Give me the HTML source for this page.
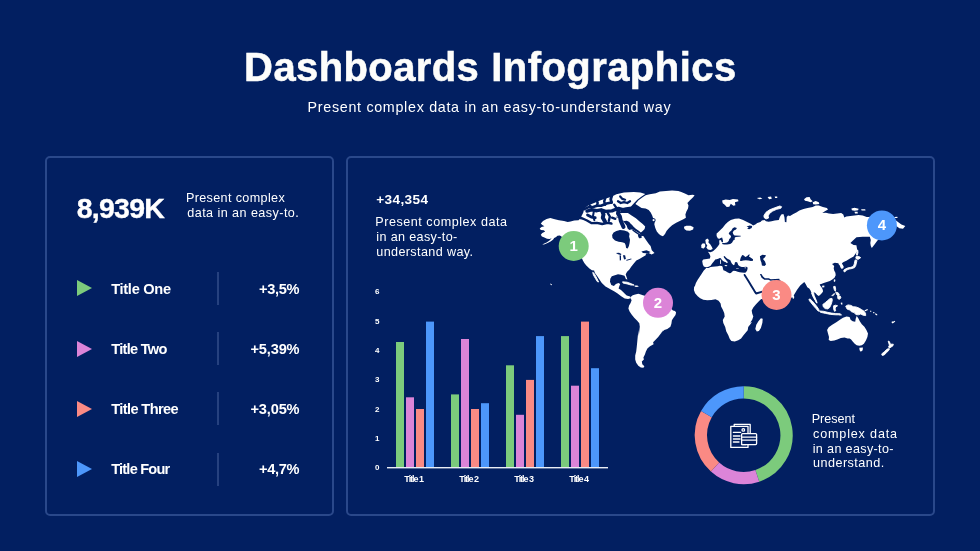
<!DOCTYPE html>
<html lang="en">
<head>
<meta charset="utf-8">
<title>Dashboards Infographics</title>
<style>
*{margin:0;padding:0;box-sizing:border-box}
html,body{width:980px;height:551px;overflow:hidden}
body{background:#021f61;font-family:"Liberation Sans", sans-serif;color:#fff;position:relative}
.t{position:absolute;white-space:nowrap;color:#fff}
.h1a,.h1b,.big,.rt,.rv,.num,.xl,.yl{font-weight:700}
.h1a,.h1b{color:#fdfdfb;-webkit-text-stroke:0.55px #fdfdfb}
.big{-webkit-text-stroke:0.35px #fff}
.panel{position:absolute;border:2px solid #2a488a;border-radius:5px}
.sep{position:absolute;left:217.1px;width:1.7px;height:33px;background:#26417f}
.tri{position:absolute;left:77px;width:0;height:0;border-top:8px solid transparent;border-bottom:8px solid transparent;border-left:15px solid #7ccb7c}
svg{position:absolute;left:0;top:0}
svg text{font-family:"Liberation Sans", sans-serif}
</style>
</head>
<body>
<div class="panel" style="left:45.2px;top:156px;width:288.9px;height:359.7px"></div>
<div class="panel" style="left:346.3px;top:156px;width:588.8px;height:359.7px"></div>
<div class="tri" style="top:280.3px;border-left-color:#7ccb7c"></div>
<div class="sep" style="top:271.8px"></div>
<div class="tri" style="top:340.6px;border-left-color:#dc84d8"></div>
<div class="sep" style="top:332.1px"></div>
<div class="tri" style="top:400.9px;border-left-color:#fa8a84"></div>
<div class="sep" style="top:392.4px"></div>
<div class="tri" style="top:461.2px;border-left-color:#4d97fb"></div>
<div class="sep" style="top:452.7px"></div>
<div class="t h1a" style="left:244.10px;top:45.00px;font-size:40px;line-height:44px;letter-spacing:0.397px">Dashboards</div>
<div class="t h1b" style="left:491.20px;top:45.00px;font-size:40px;line-height:44px;letter-spacing:0.448px">Infographics</div>
<div class="t sub" style="left:307.60px;top:99.00px;font-size:14.3px;line-height:16px;letter-spacing:0.693px">Present complex data in an easy-to-understand way</div>
<div class="t big" style="left:76.70px;top:192.00px;font-size:28.5px;line-height:32px;letter-spacing:-0.744px">8,939K</div>
<div class="t p" style="left:185.90px;top:191.00px;font-size:12.6px;line-height:14px;letter-spacing:0.364px">Present complex</div>
<div class="t p" style="left:187.30px;top:206.00px;font-size:12.6px;line-height:14px;letter-spacing:0.438px">data in an easy-to.</div>
<div class="t rt" style="left:111.20px;top:281.00px;font-size:14.6px;line-height:16px;letter-spacing:-0.295px">Title One</div>
<div class="t rt" style="left:111.20px;top:341.00px;font-size:14.6px;line-height:16px;letter-spacing:-0.709px">Title Two</div>
<div class="t rt" style="left:111.20px;top:401.00px;font-size:14.6px;line-height:16px;letter-spacing:-0.602px">Title Three</div>
<div class="t rt" style="left:111.20px;top:461.00px;font-size:14.6px;line-height:16px;letter-spacing:-0.793px">Title Four</div>
<div class="t rv" style="left:259.00px;top:281.00px;font-size:14.6px;line-height:16px;letter-spacing:-0.302px">+3,5%</div>
<div class="t rv" style="left:250.50px;top:341.00px;font-size:14.6px;line-height:16px;letter-spacing:-0.165px">+5,39%</div>
<div class="t rv" style="left:250.50px;top:401.00px;font-size:14.6px;line-height:16px;letter-spacing:-0.165px">+3,05%</div>
<div class="t rv" style="left:259.00px;top:461.00px;font-size:14.6px;line-height:16px;letter-spacing:-0.302px">+4,7%</div>
<div class="t num" style="left:376.30px;top:192.00px;font-size:13.6px;line-height:15px;letter-spacing:0.357px">+34,354</div>
<div class="t p" style="left:375.30px;top:215.00px;font-size:12.6px;line-height:14px;letter-spacing:0.521px">Present complex data</div>
<div class="t p" style="left:376.30px;top:230.00px;font-size:12.6px;line-height:14px;letter-spacing:0.353px">in an easy-to-</div>
<div class="t p" style="left:376.30px;top:245.00px;font-size:12.6px;line-height:14px;letter-spacing:0.373px">understand way.</div>
<div class="t p" style="left:811.70px;top:412.00px;font-size:12.6px;line-height:14px;letter-spacing:-0.017px">Present</div>
<div class="t p" style="left:813.00px;top:427.00px;font-size:12.6px;line-height:14px;letter-spacing:0.836px">complex data</div>
<div class="t p" style="left:812.70px;top:442.00px;font-size:12.6px;line-height:14px;letter-spacing:0.346px">in an easy-to-</div>
<div class="t p" style="left:813.00px;top:456.00px;font-size:12.6px;line-height:14px;letter-spacing:0.478px">understand.</div>
<div class="t xl" style="left:404.30px;top:474.00px;font-size:9px;line-height:10px;letter-spacing:-1.006px">Title 1</div>
<div class="t xl" style="left:459.30px;top:474.00px;font-size:9px;line-height:10px;letter-spacing:-1.006px">Title 2</div>
<div class="t xl" style="left:514.30px;top:474.00px;font-size:9px;line-height:10px;letter-spacing:-1.006px">Title 3</div>
<div class="t xl" style="left:569.30px;top:474.00px;font-size:9px;line-height:10px;letter-spacing:-1.006px">Title 4</div>
<div class="t yl" style="left:375.10px;top:463.00px;font-size:8px;line-height:9px;letter-spacing:0.000px">0</div>
<div class="t yl" style="left:375.10px;top:434.00px;font-size:8px;line-height:9px;letter-spacing:0.000px">1</div>
<div class="t yl" style="left:375.10px;top:405.00px;font-size:8px;line-height:9px;letter-spacing:0.000px">2</div>
<div class="t yl" style="left:375.10px;top:375.00px;font-size:8px;line-height:9px;letter-spacing:0.000px">3</div>
<div class="t yl" style="left:375.10px;top:346.00px;font-size:8px;line-height:9px;letter-spacing:0.000px">4</div>
<div class="t yl" style="left:375.10px;top:317.00px;font-size:8px;line-height:9px;letter-spacing:0.000px">5</div>
<div class="t yl" style="left:375.10px;top:287.00px;font-size:8px;line-height:9px;letter-spacing:0.000px">6</div>
<svg width="980" height="551" viewBox="0 0 980 551">
<g id="bars">
<rect x="396.0" y="342.0" width="8" height="125.3" fill="#7ccb7c"/>
<rect x="406.0" y="397.3" width="8" height="70.0" fill="#dc84d8"/>
<rect x="416.0" y="409.0" width="8" height="58.3" fill="#fa8a84"/>
<rect x="426.0" y="321.6" width="8" height="145.8" fill="#4d97fb"/>
<rect x="451.0" y="394.4" width="8" height="72.9" fill="#7ccb7c"/>
<rect x="461.0" y="339.0" width="8" height="128.3" fill="#dc84d8"/>
<rect x="471.0" y="409.0" width="8" height="58.3" fill="#fa8a84"/>
<rect x="481.0" y="403.2" width="8" height="64.1" fill="#4d97fb"/>
<rect x="506.0" y="365.3" width="8" height="102.0" fill="#7ccb7c"/>
<rect x="516.0" y="414.8" width="8" height="52.5" fill="#dc84d8"/>
<rect x="526.0" y="379.9" width="8" height="87.4" fill="#fa8a84"/>
<rect x="536.0" y="336.1" width="8" height="131.2" fill="#4d97fb"/>
<rect x="561.0" y="336.1" width="8" height="131.2" fill="#7ccb7c"/>
<rect x="571.0" y="385.7" width="8" height="81.6" fill="#dc84d8"/>
<rect x="581.0" y="321.6" width="8" height="145.8" fill="#fa8a84"/>
<rect x="591.0" y="368.2" width="8" height="99.1" fill="#4d97fb"/>
<rect x="387" y="467" width="221" height="1.4" fill="#e9edf5"/>
</g>
<g id="map" fill="#fff">
<path fill="#fff" d="M540.8 223.4L543.0 220.9L546.6 219.1L550.3 218.1L553.9 219.1L559.0 220.2L564.0 220.9L567.7 222.0L570.6 221.6L574.2 220.5L578.6 220.2L579.3 219.3L583.6 219.6L587.9 221.1L592.1 222.9L595.7 223.6L598.6 223.9L602.1 223.0L605.7 223.2L609.3 223.9L612.1 222.5L613.6 220.0L615.7 218.6L619.0 217.0L623.0 221.0L627.0 226.0L632.0 229.0L638.0 232.5L643.5 236.2L646.0 240.0L649.0 244.2L650.6 246.1L651.8 250.2L654.5 253.1L651.6 254.5L648.6 253.1L646.0 253.5L645.7 255.3L641.9 257.6L639.4 259.0L636.3 260.6L633.8 263.5L631.2 266.7L629.4 269.4L627.1 271.8L625.7 274.3L626.3 276.3L627.4 279.4L625.9 279.0L624.5 275.7L621.0 274.7L618.0 274.2L614.9 275.2L611.8 276.3L610.3 278.8L610.0 281.8L611.3 284.9L613.9 286.1L615.9 284.1L618.5 282.9L620.2 283.9L619.2 286.4L618.6 288.6L621.0 290.0L623.1 292.0L625.1 294.1L626.7 295.5L630.1 296.6L630.6 298.3L628.1 299.0L624.7 298.4L621.2 296.2L617.6 293.4L614.5 291.6L610.4 289.2L605.5 286.5L601.8 283.1L599.8 280.0L597.3 276.3L594.9 272.9L594.1 270.6L591.9 270.2L589.4 268.6L586.3 265.5L584.3 263.0L582.9 260.4L582.0 258.4L572.8 247.8L567.0 241.2L560.8 236.1L559.7 235.4L557.5 235.8L556.1 236.9L554.2 238.0L553.2 239.4L551.0 241.2L548.1 242.7L544.8 244.3L542.3 244.7L543.7 243.8L546.6 242.4L549.5 240.6L551.7 238.3L549.5 239.0L547.0 238.7L544.4 237.6L541.9 236.5L540.8 234.7L542.3 232.9L545.2 231.4L543.7 230.3L540.8 230.0L539.7 228.5L541.5 227.1L544.4 226.3L542.3 224.9ZM634.5 285.5L637.3 285.5L638.9 286.5L636.8 287.1L634.8 286.7ZM630.6 297.0L632.7 295.2L635.2 294.4L638.3 293.7L640.8 294.4L642.9 295.2L644.9 295.7L653.1 296.2L665.3 303.4L673.0 310.5L675.0 311.0L676.1 312.6L675.5 315.1L673.5 317.7L671.9 320.2L671.4 323.8L670.4 326.8L667.3 328.9L664.3 330.1L662.2 331.9L660.7 335.0L659.2 338.1L663.3 330.0L661.2 333.1L658.2 337.1L655.1 340.2L653.1 342.2L653.6 344.3L650.0 346.3L647.4 348.4L645.9 351.4L644.9 354.5L643.4 357.6L643.9 359.6L641.8 361.6L642.3 364.2L644.4 366.2L643.4 367.8L640.8 367.6L638.3 365.7L636.2 362.7L635.2 359.6L635.2 355.5L636.2 351.4L636.7 347.3L637.2 342.2L637.8 336.1L638.6 330.0L638.8 336.0L639.3 330.9L639.8 326.8L639.3 323.3L637.2 320.7L634.2 317.7L631.6 314.6L629.6 311.5L628.4 308.5L629.1 305.4L630.6 302.9L631.6 300.3L630.6 298.3ZM581.0 217.1L583.2 212.8L584.3 208.4L588.6 205.2L594.1 203.0L600.6 200.3L606.6 198.3L611.5 196.8L616.4 194.3L624.0 192.6L633.8 192.1L640.4 192.6L645.3 193.9L640.9 197.0L637.3 199.7L634.7 202.4L631.9 205.5L630.0 207.9L627.3 209.5L622.9 210.1L618.6 212.2L616.9 215.5L616.4 218.8L615.3 222.0L612.0 222.6L607.7 222.0L602.2 223.1L596.8 222.6L591.3 222.6L585.9 220.9ZM627.9 213.0L631.6 215.5L635.9 218.3L639.6 221.4L642.7 224.1L645.2 226.6L644.6 229.1L642.7 230.9L640.9 232.6L638.4 230.6L635.8 228.8L633.3 226.5L630.8 224.5L629.4 222.0L626.8 220.8L624.0 221.1L620.6 219.5L617.5 217.3L616.4 214.9L618.0 213.3L622.3 213.0ZM635.4 203.9L638.5 200.3L642.6 197.2L645.6 195.2L649.7 194.2L655.8 193.2L659.9 191.6L666.0 190.9L672.1 190.6L678.3 190.9L681.3 192.1L685.4 193.7L688.5 195.2L692.6 194.7L694.6 195.2L693.1 197.2L690.0 200.3L687.4 202.9L688.5 205.4L688.0 208.5L686.4 211.5L685.4 214.6L685.9 217.7L683.4 219.2L680.3 220.7L676.2 222.8L672.1 225.3L669.1 227.9L666.5 230.9L665.0 234.0L663.0 236.2L660.9 235.5L658.9 234.0L656.8 231.4L655.3 227.9L654.3 224.3L654.8 221.7L653.3 218.7L652.2 215.6L650.7 212.6L648.7 210.0L645.6 208.5L641.5 208.0L638.5 205.9ZM683.9 226.8L686.4 225.8L690.5 225.8L693.6 227.3L693.1 229.4L690.0 230.7L686.4 230.4L684.4 228.9ZM706.3 267.6L703.8 266.5L702.8 264.5L702.2 260.9L703.3 259.4L706.8 258.9L709.9 258.4L710.4 256.3L709.4 253.8L707.9 251.7L710.4 252.2L713.0 251.2L716.0 248.6L718.1 246.0L719.4 244.0L719.2 240.9L719.8 239.7L721.1 240.4L721.4 241.4L722.1 242.6L723.1 241.8L722.8 239.7L722.1 237.6L720.6 237.9L719.7 238.8L717.9 238.5L716.6 236.0L716.6 233.5L717.0 233.3L719.6 230.7L722.7 227.7L725.2 224.6L727.8 222.0L730.8 220.0L734.9 218.7L739.0 218.5L743.1 220.0L747.1 222.0L751.2 224.1L753.1 225.4L755.3 224.6L757.3 223.1L760.4 222.0L761.9 220.5L764.5 220.0L766.0 221.3L768.6 221.7L771.6 221.3L774.7 220.5L778.8 220.0L779.8 216.9L781.3 214.4L783.4 213.9L784.4 216.9L784.9 222.0L786.4 222.3L786.7 216.9L788.0 215.4L790.0 215.9L793.3 214.1L796.3 212.6L799.4 210.5L803.5 209.0L807.6 208.0L812.7 206.9L815.7 205.4L818.8 205.4L822.9 206.9L826.9 208.0L828.0 209.5L824.9 211.3L822.3 213.1L825.9 212.8L829.0 213.6L833.1 214.1L837.1 213.4L841.2 213.1L843.3 214.6L844.3 217.4L846.3 216.6L850.4 216.1L854.5 215.6L858.6 215.1L862.7 215.6L866.7 217.1L868.8 216.9L875.9 215.9L886.1 216.9L895.3 220.0L901.4 224.4L905.3 226.1L903.0 228.7L899.4 228.2L896.3 226.1L891.2 228.7L887.1 233.8L881.0 237.9L877.4 240.4L874.9 244.0L871.8 248.1L870.8 246.0L870.3 243.0L870.8 239.9L869.8 236.8L862.7 236.8L856.5 237.3L853.5 239.9L850.4 243.0L853.6 245.0L856.4 245.3L857.1 249.3L856.0 252.9L853.6 256.4L850.0 258.6L846.4 260.7L843.6 262.1L841.9 263.3L842.5 264.5L843.8 266.7L843.1 268.5L841.3 268.8L840.4 267.3L839.8 265.4L838.5 263.9L838.5 263.3L834.8 262.7L832.0 264.1L834.2 265.9L833.7 268.2L834.2 270.4L835.4 272.8L835.7 275.3L834.5 277.8L832.3 279.6L829.9 280.9L826.8 282.1L823.7 283.0L821.2 283.9L820.9 283.9L819.7 284.5L820.3 285.7L821.5 287.3L822.5 289.1L823.1 291.3L822.2 292.8L820.3 294.7L818.8 295.9L817.2 295.0L815.4 293.1L813.5 291.9L813.2 293.4L814.1 295.9L815.4 298.4L816.6 301.5L817.2 303.3L816.3 302.8L815.4 300.8L813.5 297.8L812.3 295.3L811.4 292.8L810.4 290.3L809.2 288.5L807.3 287.3L805.8 284.2L804.3 282.0L800.2 285.6L797.1 289.7L794.1 294.8L791.5 297.9L785.9 285.6L779.3 279.5L773.7 280.5L770.6 288.7L765.5 297.9L760.9 299.3L758.4 301.8L755.8 304.4L753.3 307.4L751.7 310.5L752.2 313.6L753.3 316.6L752.2 319.7L750.2 322.8L752.0 322.0L750.2 324.6L748.2 327.1L747.7 330.2L745.6 332.8L743.5 335.3L741.1 338.4L738.3 340.2L734.7 341.5L731.4 341.1L729.8 339.0L728.3 335.3L726.2 331.2L725.2 327.1L723.3 323.1L722.8 320.0L724.7 316.6L724.2 313.1L722.7 309.5L721.1 306.4L720.6 303.4L718.6 300.8L715.5 299.3L711.4 300.1L707.3 300.3L703.3 299.8L700.2 298.3L697.7 296.2L695.1 293.2L693.9 290.1L694.1 287.0L694.9 285.9L695.9 282.9L697.7 279.8L699.7 276.7L701.7 273.7L703.8 270.6L705.8 268.6ZM722.1 200.6L725.7 199.6L729.8 200.1L732.9 199.1L738.0 199.6L738.5 201.3L734.9 202.3L735.4 205.2L733.4 205.7L730.8 203.7L729.3 206.7L726.7 207.0L724.7 204.7L722.7 203.2ZM756.8 197.9L760.4 197.4L762.4 198.7L759.4 199.3ZM767.6 197.0L771.1 196.6L771.8 198.7L769.1 199.3ZM774.7 196.5L777.2 196.4L777.3 197.9L775.1 198.1ZM804.0 199.3L806.5 197.2L809.6 197.0L810.6 199.3L812.7 201.3L810.6 202.3L807.6 201.3L805.0 200.8ZM812.7 202.3L815.7 201.1L818.8 202.3L819.3 203.9L815.7 204.4L813.2 204.2ZM851.4 208.5L854.5 207.7L858.6 208.7L858.1 210.3L854.5 210.7L851.9 210.3ZM861.1 209.3L865.2 209.3L865.5 210.5L861.6 210.5ZM854.5 211.7L857.6 211.7L857.8 213.4L855.0 213.6ZM894.3 216.9L897.3 216.7L897.6 217.9L894.5 218.1ZM705.3 239.9L707.3 238.4L708.9 239.9L708.4 242.4L710.4 244.5L711.9 247.0L712.7 249.1L710.4 250.1L707.9 249.6L706.3 247.6L707.3 245.5L705.8 243.5ZM701.2 245.0L702.8 243.2L705.1 243.8L705.3 246.5L703.8 248.6L701.4 247.9ZM755.3 328.9L756.3 324.8L758.4 321.2L760.9 318.2L762.7 318.7L762.4 322.8L760.9 327.9L758.9 330.9L756.8 331.4ZM792.4 295.6L793.9 295.4L794.3 297.3L793.5 299.1L792.4 297.9ZM833.9 279.6L835.1 279.3L835.4 280.9L834.5 282.1L833.7 281.2ZM822.0 285.7L824.3 285.6L824.4 287.3L822.3 287.4ZM840.7 302.7L842.2 302.6L842.5 304.4L841.0 304.5ZM839.3 314.6L842.0 314.4L842.2 315.3L839.6 315.5ZM864.3 310.5L867.3 309.0L868.0 310.0L865.3 311.3ZM869.9 310.7L871.2 310.7L871.4 311.7L870.2 311.7ZM875.0 313.6L876.3 313.6L876.5 314.8L875.3 314.8ZM891.6 321.7L893.1 321.3L893.3 322.6L891.8 323.0ZM827.1 329.9L828.7 327.3L832.2 324.8L836.3 322.2L839.9 319.7L843.0 317.7L846.5 316.6L849.6 317.1L850.6 319.7L852.7 321.2L855.2 321.7L855.7 318.7L856.7 316.1L858.3 318.2L859.8 321.2L861.8 324.3L864.4 326.8L866.4 329.9L868.0 333.5L867.4 337.0L865.9 340.6L863.9 343.7L861.8 345.2L859.3 345.7L856.7 345.2L854.7 343.7L852.7 341.6L851.1 339.6L849.6 338.6L847.6 338.4L844.5 337.6L840.9 338.1L837.3 339.6L834.3 340.6L830.7 341.1L828.7 340.1L829.0 337.0L828.0 333.5ZM859.3 347.8L862.9 347.6L862.7 350.3L860.8 351.8L859.6 350.3ZM891.9 322.8L894.5 320.7L895.3 321.4L892.7 323.5ZM873.1 312.0L874.3 312.0L874.5 313.3L873.3 313.3ZM875.9 314.1L877.1 314.1L877.3 315.3L876.1 315.3ZM550.2 283.6L551.4 284.0L552.2 284.9L551.6 285.2L550.4 284.4Z"/>
<path fill="#fff" stroke="#fff" stroke-width="0.9" stroke-linejoin="round" d="M592.7 272.4L594.0 273.2L596.0 276.7L597.8 280.3L598.6 282.0L597.3 281.6L595.3 278.3L593.5 275.2ZM622.6 281.8L627.1 282.2L631.2 283.7L634.1 285.1L631.2 285.1L627.1 283.9L623.1 283.1ZM764.0 215.4L766.0 212.3L769.6 209.8L774.7 207.8L779.8 206.0L781.6 206.7L780.8 208.3L776.7 209.3L772.7 211.1L769.6 213.4L768.1 215.9L768.6 218.0L766.0 219.0L764.0 217.4ZM856.4 256.2L859.5 256.8L860.7 257.7L858.3 259.3L856.4 259.0L855.8 257.4ZM855.2 259.9L857.0 260.5L856.4 263.0L855.8 265.4L854.6 267.6L852.1 268.5L849.0 269.1L846.5 270.1L845.3 271.6L844.1 271.9L843.8 270.1L845.3 269.1L847.8 267.9L850.9 267.3L853.3 266.4L854.3 263.9L854.6 261.7ZM856.4 250.0L857.7 250.0L858.0 252.5L857.3 255.2L856.5 254.9L856.7 252.5ZM808.9 299.3L810.1 299.0L812.3 301.1L814.8 303.9L817.2 307.0L818.8 309.5L819.4 311.3L818.1 311.0L816.0 308.6L813.5 305.8L811.0 302.7L809.5 300.8ZM822.8 304.5L825.2 302.7L827.7 300.5L829.9 298.7L832.0 298.4L832.3 300.2L831.7 302.7L830.8 305.2L829.6 307.6L827.7 308.9L825.2 308.6L823.4 307.0ZM833.6 286.6L835.1 286.3L835.7 289.1L835.4 291.3L834.5 290.3L833.9 288.5ZM835.7 292.2L838.2 292.8L839.4 294.7L838.2 295.9L836.7 294.7ZM837.6 296.2L840.1 295.9L841.0 297.8L839.4 299.3L837.9 298.7ZM832.0 295.6L834.2 293.4L834.6 293.9L832.5 296.1ZM833.6 305.8L835.7 305.2L837.6 305.8L835.7 307.0L835.1 308.9L835.7 310.7L834.5 311.3L833.6 308.9ZM819.9 311.0L823.5 311.3L827.6 312.3L831.6 313.1L835.7 313.6L840.3 313.8L840.3 314.8L835.7 314.8L830.6 314.4L825.5 313.4L820.4 312.3ZM845.7 306.2L848.0 304.9L851.0 305.4L853.1 306.7L855.9 306.9L859.0 308.1L861.4 309.5L863.9 311.1L865.5 313.2L865.7 315.6L863.1 315.2L860.7 314.0L858.4 314.8L855.9 314.6L854.1 312.6L851.5 311.7L849.8 310.1L847.1 309.1ZM888.2 341.1L889.4 341.6L890.4 344.2L893.3 344.2L893.0 345.7L890.9 347.2L889.4 348.3L888.6 346.7L889.4 345.2ZM888.6 348.6L889.4 349.8L886.8 352.3L884.3 354.9L882.2 355.4L881.7 353.9L884.3 351.8L886.8 349.3ZM813.5 292.5L814.3 295.9L815.5 298.5L816.7 301.6L817.1 303.1L816.3 302.7L815.4 300.7L813.5 297.6L812.4 295.2L811.7 293.1Z"/>
<path fill="#021f61" d="M613.6 232.6L616.4 230.9L620.0 230.0L624.3 230.5L627.9 231.7L629.6 233.7L629.1 236.6L630.0 239.8L629.6 243.0L628.9 245.9L627.7 248.6L626.1 248.1L625.6 245.1L624.6 243.0L622.1 242.3L618.6 241.7L615.0 240.5L612.5 238.0L612.1 235.1ZM615.9 253.1L619.0 252.7L621.5 254.1L620.8 255.1L618.0 254.3ZM619.6 255.3L621.0 255.5L621.0 260.2L619.8 260.4ZM622.9 255.3L625.1 255.3L625.9 258.9L624.1 259.6ZM626.1 260.0L631.2 258.4L631.6 259.2L626.7 260.8ZM641.4 251.4L646.5 250.2L650.6 252.0L648.6 253.1L646.0 253.3L643.0 253.1ZM627.1 223.6L629.3 223.0L631.1 223.9L632.9 225.9L633.6 228.1L632.9 229.6L631.1 229.4L629.3 229.9L627.6 228.5L626.9 226.3ZM637.9 234.3L641.6 234.7L641.6 238.0L639.1 238.2L638.2 236.5ZM651.9 218.7L653.6 217.9L655.4 218.9L655.6 220.9L654.3 222.2L652.6 221.7L651.5 220.3ZM759.9 256.3L762.4 254.8L766.0 255.3L765.0 257.3L763.0 258.9L765.0 261.4L766.0 264.5L764.5 266.0L761.9 265.5L761.4 262.4L760.4 259.9ZM734.5 227.3L736.9 228.0L736.0 229.5L733.9 230.4L732.7 232.2L733.3 234.2L734.5 235.4L740.7 235.7L740.7 236.6L735.7 236.9L734.5 237.9L735.1 239.4L733.9 239.7L733.0 240.9L732.0 242.8L730.2 244.0L727.1 244.5L724.0 244.6L722.1 244.0L722.4 243.1L724.6 243.1L727.1 242.4L728.7 240.9L729.3 239.1L730.5 237.9L731.1 236.0L729.6 234.8L728.7 233.6L729.6 231.9L731.4 230.4L732.7 228.3ZM746.6 226.4L749.7 225.6L752.2 226.1L751.7 227.9L749.2 229.2L747.1 228.7L748.7 227.4ZM759.9 273.9L761.4 273.9L763.0 276.6L765.0 278.3L768.8 278.3L770.8 279.3L779.3 278.7L779.3 280.1L770.6 280.7L768.4 279.7L764.3 279.7L761.6 277.7ZM705.5 267.3L707.0 267.2L708.6 266.8L710.6 265.8L711.6 264.3L712.7 262.8L714.2 261.0L715.2 259.4L716.7 259.2L718.3 258.7L719.8 257.9L720.8 258.2L721.8 259.7L723.1 261.0L724.4 261.7L725.9 262.2L726.9 263.3L727.7 262.8L727.4 261.5L726.4 260.5L725.4 259.2L724.1 257.7L723.6 256.4L724.6 256.1L725.9 257.4L727.4 258.7L729.0 259.4L730.5 260.5L731.0 262.0L732.0 263.8L733.6 265.3L734.6 264.5L734.8 262.8L735.6 262.0L737.1 262.2L737.7 263.5L738.2 265.1L739.7 266.3L741.7 267.1L743.8 267.1L745.8 266.8L747.3 267.1L747.6 268.4L747.1 270.4L745.8 272.4L744.3 272.7L741.7 272.4L739.7 272.2L737.7 271.7L735.6 270.9L733.6 270.7L732.0 271.7L731.0 273.0L729.5 273.2L727.4 272.2L725.4 270.9L723.4 270.2L722.9 268.4L722.6 266.8L721.8 266.1L719.8 265.8L717.8 266.3L715.2 266.6L712.7 266.8L710.6 267.1L708.6 267.9L707.0 268.0L705.5 267.9ZM739.9 260.7L740.7 257.7L742.2 255.1L743.8 255.6L745.3 257.1L747.3 256.1L748.4 254.8L749.9 254.6L748.9 256.4L750.9 257.7L753.0 259.2L753.0 260.7L750.9 261.0L748.4 260.5L745.8 260.2L743.3 260.5L741.2 261.0Z"/>
<path fill="none" stroke="#021f61" stroke-width="3.4" stroke-linecap="round" stroke-linejoin="round" d="M587.0 211.1L591.3 209.8L596.8 210.7L601.1 209.8L605.5 211.4L612.0 210.9L615.3 209.5L618.6 208.5L622.9 209.6L626.2 209.0L631.6 208.3"/>
<path fill="none" stroke="#021f61" stroke-width="4.0" stroke-linecap="round" stroke-linejoin="round" d="M602.2 211.1L603.5 214.4L602.8 217.7L605.0 221.5"/>
<path fill="none" stroke="#021f61" stroke-width="4.0" stroke-linecap="round" stroke-linejoin="round" d="M618.6 209.5L618.0 213.5L619.9 216.6L620.8 220.9L623.5 226.9"/>
<path fill="none" stroke="#021f61" stroke-width="2.6" stroke-linecap="round" stroke-linejoin="round" d="M584.3 209.2L588.1 207.3L592.4 207.2L596.8 205.7L601.1 205.7L606.6 203.5L611.5 202.4"/>
<path fill="none" stroke="#021f61" stroke-width="2.5" stroke-linecap="round" stroke-linejoin="round" d="M596.6 200.3L597.7 203.0L596.8 205.9"/>
<path fill="none" stroke="#021f61" stroke-width="2.5" stroke-linecap="round" stroke-linejoin="round" d="M605.3 197.9L604.2 201.3L605.0 204.8"/>
<path fill="none" stroke="#021f61" stroke-width="2.8" stroke-linecap="round" stroke-linejoin="round" d="M611.8 195.9L610.7 199.2L611.6 202.6"/>
<path fill="none" stroke="#021f61" stroke-width="2.3" stroke-linecap="round" stroke-linejoin="round" d="M581.0 217.7L587.0 220.5L591.3 223.1L596.8 222.9L602.2 224.0L607.7 222.9L611.5 223.7"/>
<path fill="none" stroke="#021f61" stroke-width="2.3" stroke-linecap="round" stroke-linejoin="round" d="M618.0 201.3L620.8 203.0L624.0 202.2L627.3 203.0L630.0 201.3"/>
<path fill="none" stroke="#021f61" stroke-width="2.2" stroke-linecap="round" stroke-linejoin="round" d="M620.2 196.4L622.4 198.9L625.1 199.7"/>
<path fill="none" stroke="#021f61" stroke-width="2.8" stroke-linecap="round" stroke-linejoin="round" d="M587.5 215.0L591.3 217.1L595.2 217.7"/>
<path fill="none" stroke="#021f61" stroke-width="2.0" stroke-linecap="round" stroke-linejoin="round" d="M593.7 212.2L593.0 216.0L594.4 220.1"/>
<path fill="none" stroke="#021f61" stroke-width="2.3" stroke-linecap="round" stroke-linejoin="round" d="M607.7 212.8L609.9 216.6L608.8 220.9"/>
<path fill="none" stroke="#021f61" stroke-width="2.3" stroke-linecap="round" stroke-linejoin="round" d="M612.0 217.7L615.3 218.8"/>
<path fill="none" stroke="#021f61" stroke-width="2.0" stroke-linecap="round" stroke-linejoin="round" d="M589.2 204.6L591.3 206.8"/>
<path fill="none" stroke="#021f61" stroke-width="2.3" stroke-linecap="round" stroke-linejoin="round" d="M614.2 204.6L616.4 207.9"/>
<path fill="none" stroke="#021f61" stroke-width="1.4" stroke-linecap="round" stroke-linejoin="round" d="M633.0 230.3L636.0 232.4L640.0 235.0L643.5 235.2"/>
<path fill="none" stroke="#021f61" stroke-width="1.9" stroke-linecap="round" stroke-linejoin="round" d="M744.6 274.9L748.4 280.9L751.4 286.0L754.5 291.1L756.1 293.5L761.6 291.8"/>
<path fill="#fff" d="M652.6 219.5L653.6 218.9L654.6 219.5L654.6 220.7L653.6 221.3L652.6 220.7ZM720.1 259.7L720.9 259.7L721.1 263.8L720.2 263.9ZM724.6 265.1L727.4 265.2L726.7 266.3L724.9 266.1ZM736.1 267.9L738.7 267.9L738.7 268.5L736.1 268.5ZM744.5 267.6L746.1 267.5L746.1 268.2L744.6 268.2Z"/>
</g>
<g id="markers">
<circle cx="573.7" cy="246" r="15" fill="#7ccb7c"/>
<text x="573.7" y="250.7" text-anchor="middle" font-size="15" font-weight="700" fill="#fff">1</text>
<circle cx="658" cy="302.8" r="15" fill="#dc84d8"/>
<text x="658" y="307.5" text-anchor="middle" font-size="15" font-weight="700" fill="#fff">2</text>
<circle cx="776.5" cy="295" r="15" fill="#fa8a84"/>
<text x="776.5" y="299.7" text-anchor="middle" font-size="15" font-weight="700" fill="#fff">3</text>
<circle cx="881.9" cy="225.4" r="15" fill="#4d97fb"/>
<text x="881.9" y="230.1" text-anchor="middle" font-size="15" font-weight="700" fill="#fff">4</text>
</g>
<g id="donut">
<path d="M743.70 392.35A42.85 42.85 0 0 1 757.30 475.84" fill="none" stroke="#7ccb7c" stroke-width="12.3"/>
<path d="M757.30 475.84A42.85 42.85 0 0 1 715.03 467.04" fill="none" stroke="#dc84d8" stroke-width="12.3"/>
<path d="M715.03 467.04A42.85 42.85 0 0 1 706.41 414.10" fill="none" stroke="#fa8a84" stroke-width="12.3"/>
<path d="M706.41 414.10A42.85 42.85 0 0 1 743.70 392.35" fill="none" stroke="#4d97fb" stroke-width="12.3"/>
<g fill="none" stroke="#fff" stroke-width="1.3" stroke-linejoin="round" stroke-linecap="round">
<path d="M734.2 426V424.4H750.2V433.4"/>
<path d="M748 433.4V426.3H730.8V447.4H748V445"/>
<path d="M733.4 432.4H740.6M733.4 436H740M733.4 439H740M733.4 442H739M741.5 444.6H746"/>
<circle cx="743.3" cy="429.9" r="1.3"/>
<rect x="741.6" y="433.6" width="15" height="11" rx="1" fill="#021f61"/>
<path d="M741.6 437.2H756.6M741.6 440.2H756.6"/>
</g>
</g>
</svg>
</body>
</html>
